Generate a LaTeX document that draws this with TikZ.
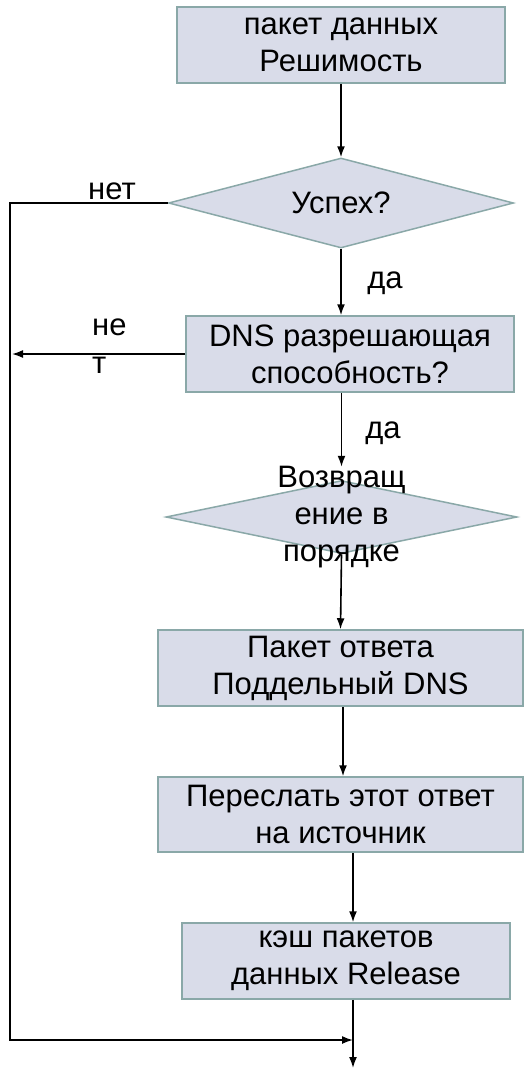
\documentclass[tikz,border=0pt]{standalone}
\usepackage{fontspec}
\setmainfont{Liberation Sans}
\usetikzlibrary{shapes.geometric, arrows.meta, positioning}
\definecolor{BoxFill}{HTML}{D9DCE9}
\definecolor{BoxLine}{HTML}{8AA8A8}

\begin{document}
\begin{tikzpicture}[x=1pt,y=-1pt,
			every node/.style={font=\fontsize{31}{37}\selectfont, align=center},
			box/.style={draw=BoxLine,fill=BoxFill,line width=1.5pt,rectangle,inner sep=0pt},
			decision/.style={draw=BoxLine,fill=BoxFill,line width=1.5pt,diamond,inner sep=0pt},
			line/.style={line width=1.6pt,-{Latex[length=11pt,width=8pt]}},
			tag/.style={inner sep=0pt}
		]
		\useasboundingbox (0,0) rectangle (525,1074);
		\node (packet) [box,minimum width=328,minimum height=76] at (341,45)
		{пакет данных\\Решимость};
		\node (success) [decision,minimum width=345,minimum height=90,
			label={[tag]center:Успех?}] at (341,203) {};
		\node (resolve) [box,minimum width=328,minimum height=76] at (350,354)
		{DNS разрешающая\\способность?};
		\node (order) [decision,minimum width=351,minimum height=73,
			label={[tag,name=orderText]center:Возвращ\\ение в\\порядке}] at (341.5,517) {};
		\node (fake) [box,minimum width=365,minimum height=76] at (340.5,668)
		{Пакет ответа\\Поддельный DNS};
		\node (forward) [box,minimum width=365,minimum height=75] at (340.5,814.5)
		{Переслать этот ответ\\на источник};
		\node (cache) [box,minimum width=328,minimum height=76] at (346,961)
		{кэш пакетов\\данных Release};
		\coordinate (join) at (353,1040);
		\coordinate (rail) at (10,1040);
		\coordinate (exit) at (353,1068);
		% branches
		\draw[line] (packet) -- (success);
		\draw[line] (success.south) -- (success.south |- resolve.north);
		\draw[line] (resolve.south -| order) -- ([yshift=13pt]order.north);
		\draw[line] (order.south) -- (fake.north);
		\draw[line] (fake.south -| 343,0) -- (forward.north -| 343,0);
		\draw[line] (forward.south -| join) -- (cache.north -| join);
		\draw[line] (cache.south -| join) -- (exit);
		\draw[line] (success.west) -| (rail) -- (join);
		\draw[line] (resolve.west) -- ([xshift=2pt]resolve.west -| rail);
		% labels
		\node (no1) [tag] at (112,191) {нет};
		\node (yes1) [tag] at (385,283) {да};
		\node (no2) [tag,anchor=west,align=left,font=\fontsize{31}{38}\selectfont] at (92,346) {не\\т};
		\node (yes2) [tag] at (383,433) {да};
	\end{tikzpicture}
\end{document}
